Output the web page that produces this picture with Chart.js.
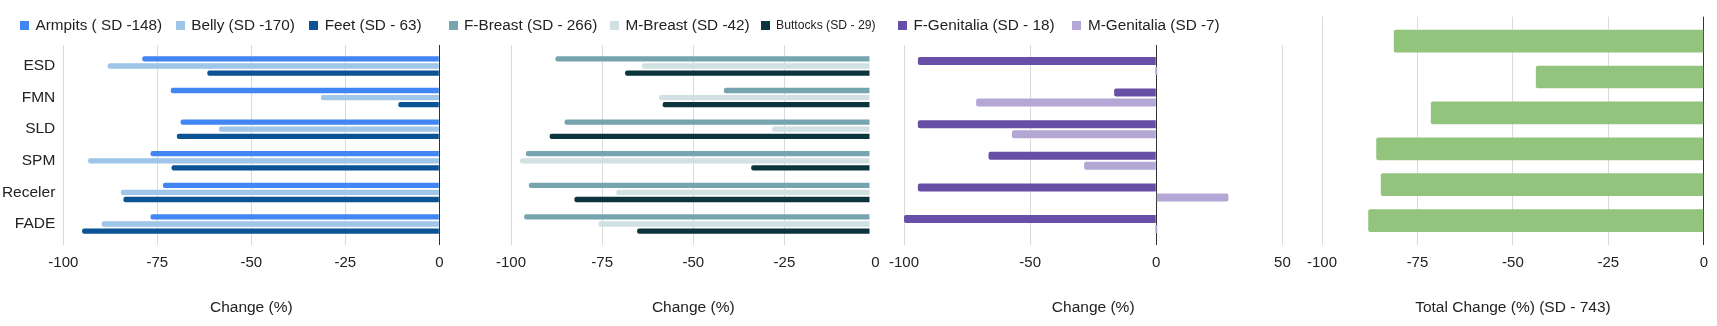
<!DOCTYPE html>
<html lang="en">
<head>
<meta charset="UTF-8">
<title>Change by body area</title>
<script src="https://cdn.jsdelivr.net/npm/chart.js"></script>
<style>
    body {
        margin: 0;
        background: #fff;
        font-family: "Liberation Sans", Arial, sans-serif;
    }
    .wrap {
        position: relative;
        width: 1717px;
        height: 326px;
        overflow: hidden;
    }
    .wrap canvas {
        position: absolute;
        top: 0;
    }
    .legend-item {
        position: absolute;
        top: 15px;
        height: 20px;
        display: flex;
        align-items: center;
        color: #222;
        font-size: 15.3px;
        white-space: nowrap;
    }
    .legend-item .box {
        width: 9px;
        height: 9px;
        margin-right: 6.5px;
        flex: none;
    }
</style>
</head>
<body>

<div class="wrap" id="wrap">
    <canvas id="c1" width="460" height="326" style="left:0px"></canvas>
    <canvas id="c2" width="410" height="326" style="left:487px"></canvas>
    <canvas id="c3" width="420" height="326" style="left:880px"></canvas>
    <canvas id="c4" width="419" height="326" style="left:1298px"></canvas>
</div>

<script>
    // data
    const categories = ['ESD', 'FMN', 'SLD', 'SPM', 'Receler', 'FADE'];

    const armpits    = [-79, -71.4, -68.8, -76.8, -73.5, -76.8];
    const belly      = [-88.2, -31.5, -58.6, -93.4, -84.7, -89.8];
    const feet       = [-61.7, -10.9, -69.8, -71.2, -84, -95];

    const fBreast    = [-87.8, -41.6, -85.3, -95.9, -95.1, -96.4];
    const mBreast    = [-64.1, -59.4, -28.4, -97.5, -71.1, -76];
    const buttocks   = [-68.7, -58.4, -89.4, -34.1, -82.6, -65.4];

    const fGenitalia = [-94.5, -16.7, -94.5, -66.5, -94.5, -100];
    const mGenitalia = [0, -71.4, -57.2, -28.6, 28.6, 0];

    const total      = [-81.2, -44, -71.5, -85.8, -84.6, -87.9];

    const seriesNames = [
        'Armpits ( SD -148)', 'Belly (SD -170)', 'Feet (SD - 63)',
        'F-Breast (SD - 266)', 'M-Breast (SD -42)', 'Buttocks (SD - 29)',
        'F-Genitalia (SD - 18)', 'M-Genitalia (SD -7)'
    ];
    const seriesColors = [
        '#4285f4', '#9fc5e8', '#0b5394',
        '#76a5af', '#d0e0e3', '#0c343d',
        '#674ea7', '#b4a7d6'
    ];
    const totalColor = '#93c47d';

    const axisTitle = 'Change (%)';
    const totalTitle = 'Total Change (%) (SD - 743)';

    // legend layout (html text)
    const legendX = [20, 175.7, 309.2, 448.5, 610, 760.5, 897.9, 1072.4];
    const legendFont = [15.3, 15.3, 15.3, 15.3, 15.3, 12.2, 15.3, 15.3];

    const wrap = document.getElementById('wrap');
    seriesNames.forEach((name, i) => {
        const item = document.createElement('div');
        item.className = 'legend-item';
        item.style.left = legendX[i] + 'px';
        item.style.fontSize = legendFont[i] + 'px';
        const box = document.createElement('span');
        box.className = 'box';
        box.style.background = seriesColors[i];
        const txt = document.createElement('span');
        txt.textContent = name;
        item.appendChild(box);
        item.appendChild(txt);
        wrap.appendChild(item);
    });

    Chart.defaults.font.family = '"Liberation Sans", Arial, sans-serif';
    Chart.defaults.color = '#222';

    const GRID = '#dadada';
    const ZERO = '#333';

    // stretch the category range a little so grid lines run past the outer bars
    function padCategories(k) {
        return s => { s._startValue -= k; s._valueRange += 2 * k; };
    }

    function ds(values, i) {
        return { label: seriesNames[i], data: values, backgroundColor: seriesColors[i] };
    }

    function panel(id, datasets, o) {
        return new Chart(document.getElementById(id), {
            type: 'bar',
            data: { labels: categories, datasets: datasets },
            options: {
                indexAxis: 'y',
                responsive: false,
                animation: false,
                layout: { padding: o.padding },
                plugins: { legend: { display: false }, tooltip: { enabled: false } },
                datasets: {
                    bar: {
                        categoryPercentage: o.catPct,
                        barPercentage: o.barPct,
                        borderRadius: 2,
                        borderSkipped: 'start',
                        minBarLength: o.minBar || 0,
                        clip: o.clip || 0
                    }
                },
                scales: {
                    x: {
                        min: o.min,
                        max: o.max,
                        ticks: { stepSize: o.step, padding: 9, maxRotation: 0, font: { size: 15 }, color: '#222' },
                        grid: {
                            drawTicks: false,
                            color: c => c.tick.value === 0 ? (o.hideZero ? 'rgba(0,0,0,0)' : ZERO) : GRID
                        },
                        border: { display: false },
                        title: {
                            display: true,
                            text: o.title,
                            color: '#222',
                            font: { size: 15.5 },
                            padding: { top: 0, bottom: 8.7 }
                        },
                        afterFit: s => { s.height = 81; }
                    },
                    y: {
                        display: !!o.labels,
                        ticks: { padding: 8, font: { size: 15.5 }, color: '#222' },
                        grid: { display: false, drawTicks: false },
                        border: { display: false },
                        afterBuildTicks: padCategories(o.k),
                        afterFit: s => { if (o.labels) s.width = 63.3; }
                    }
                }
            }
        });
    }

    panel('c1', [ds(armpits, 0), ds(belly, 1), ds(feet, 2)], {
        padding: { top: 45, right: 20.7, left: 0, bottom: 0 },
        catPct: 0.674, barPct: 0.75, k: 0.165,
        min: -100, max: 0, step: 25, title: axisTitle, labels: true
    });

    panel('c2', [ds(fBreast, 3), ds(mBreast, 4), ds(buttocks, 5)], {
        padding: { top: 45, right: 21.5, left: 20.3, bottom: 0 },
        catPct: 0.674, barPct: 0.75, k: 0.165,
        min: -100, max: 0, step: 25, title: axisTitle,
        hideZero: true, clip: { left: 0, top: 0, right: -6, bottom: 0 }
    });

    panel('c3', [ds(fGenitalia, 6), ds(mGenitalia, 7)], {
        padding: { top: 45, right: 17.6, left: 20.3, bottom: 0 },
        catPct: 0.633, barPct: 0.8, k: 0.165, minBar: 2,
        min: -100, max: 50, step: 50, title: axisTitle
    });

    panel('c4', [{ label: 'Total', data: total, backgroundColor: totalColor }], {
        padding: { top: 16.7, right: 11.7, left: 20, bottom: 0 },
        catPct: 0.632, barPct: 1, k: 0.18,
        min: -100, max: 0, step: 25, title: totalTitle
    });
</script>

</body>
</html>
